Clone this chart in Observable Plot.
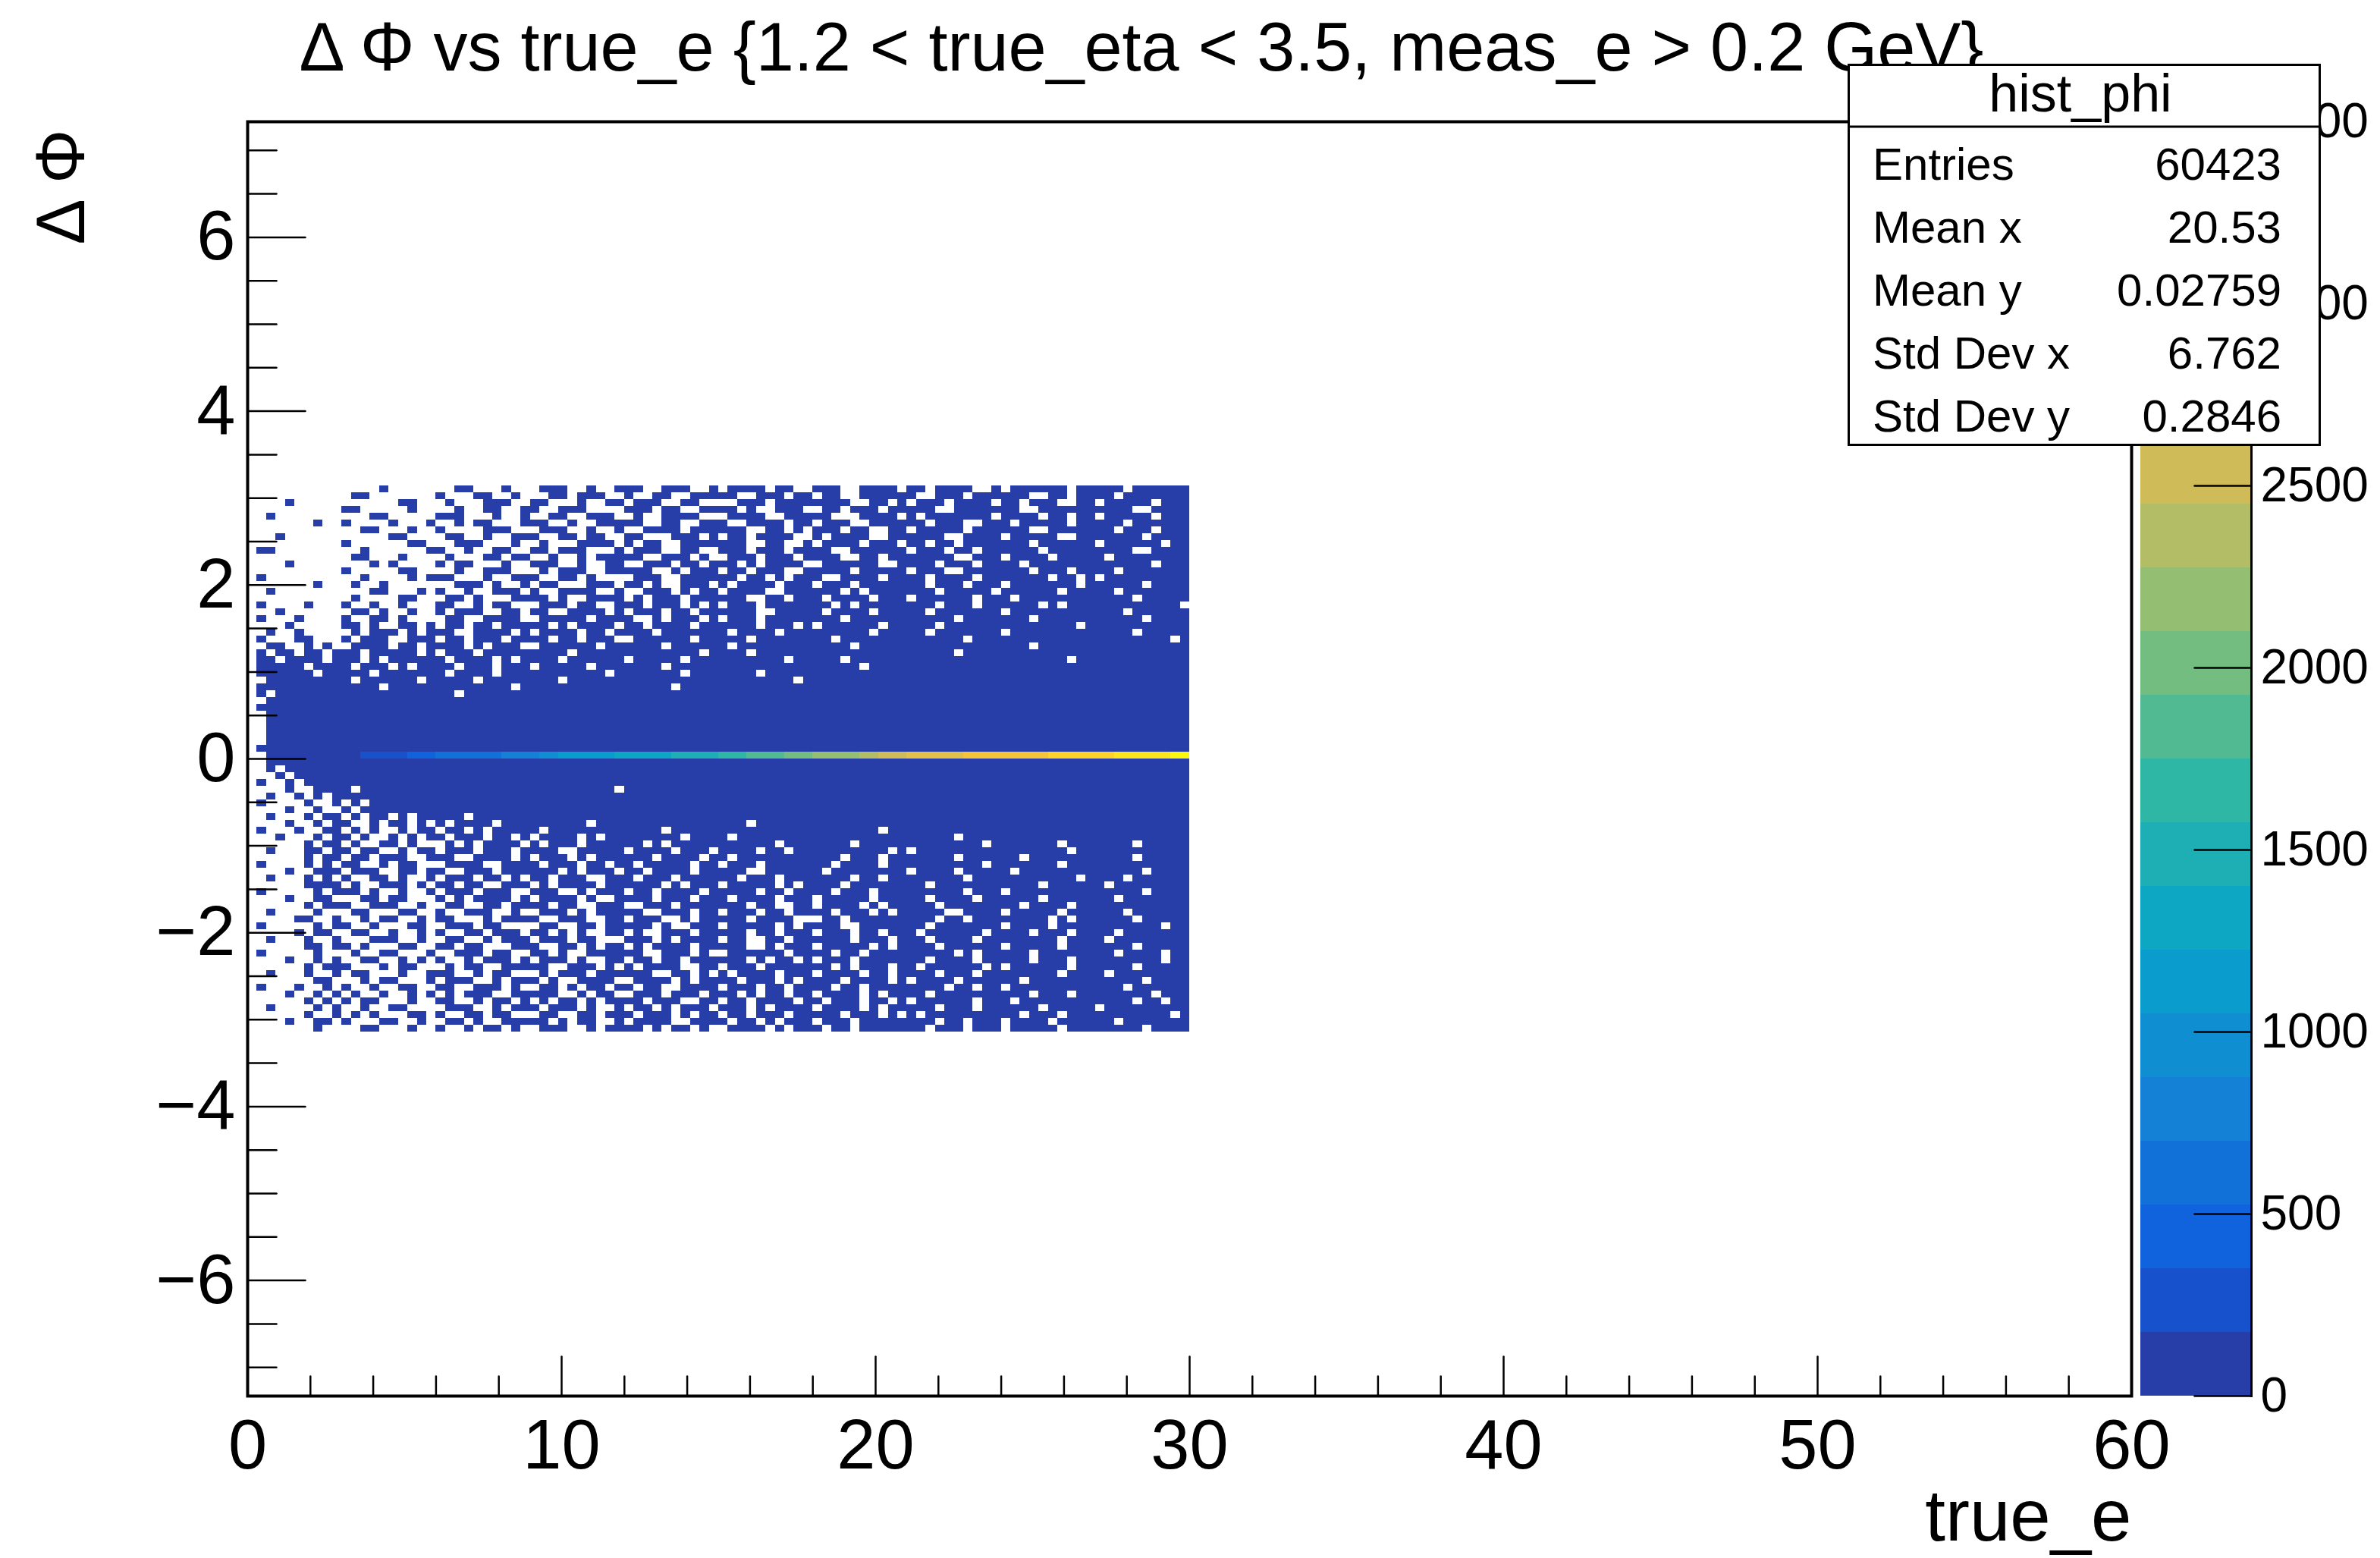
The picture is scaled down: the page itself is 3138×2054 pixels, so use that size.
<!DOCTYPE html>
<html>
<head>
<meta charset="utf-8">
<script src="https://cdn.jsdelivr.net/npm/d3@7"></script>
<script src="https://cdn.jsdelivr.net/npm/@observablehq/plot@0.6"></script>
<style>
html, body { margin: 0; padding: 0; background: #fff; }
#chart { position: relative; width: 3138px; height: 2054px; overflow: hidden; background: #fff;
  font-family: "Liberation Sans", Arial, Helvetica, sans-serif; }
#chart > svg { position: absolute; overflow: visible; }
</style>
</head>
<body>
<div id="chart"></div>
<script>
// ---------------- data ----------------
const chartTitle = "Δ Φ vs true_e {1.2 < true_eta < 3.5, meas_e > 0.2 GeV}";
const xTitle = "true_e";
const yTitle = "Δ Φ";

const xAxisRange = [0, 60];
const yAxisRange = [-7.33, 7.33];
const zAxisRange = [0, 3500];
const zContours = 20;

// histogram binning
const nBinsX = 100, xBinMin = 0, xBinMax = 30;
const nBinsY = 80, yBinMin = -3.1416, yBinMax = 3.1416;

const xMajorTicks = [0, 10, 20, 30, 40, 50, 60];
const xMinorTicks = [2, 4, 6, 8, 12, 14, 16, 18, 22, 24, 26, 28, 32, 34, 36, 38, 42, 44, 46, 48, 52, 54, 56, 58];
const yMajorTicks = [-6, -4, -2, 0, 2, 4, 6];
const yMinorTicks = [-7, -6.5, -5.5, -5, -4.5, -3.5, -3, -2.5, -1.5, -1, -0.5, 0.5, 1, 1.5, 2.5, 3, 3.5, 4.5, 5, 5.5, 6.5, 7];
const zTicks = [0, 500, 1000, 1500, 2000, 2500, 3000, 3500];

const statsName = "hist_phi";
const statsLabels = ["Entries", "Mean x", "Mean y", "Std Dev x", "Std Dev y"];
const statsValues = ["60423", "20.53", "0.02759", "6.762", "0.2846"];

// occupied cells away from the peak all sit in the first colour band
const lowCount = 60;

// peak ridge: Δφ bin just above 0 (bin index 40), starting at true_e bin 12
const peakRowBin = 40;
const peakStartBin = 12;
const peakCounts = [
  200, 230, 260, 290, 320, 350, 380, 420,
  540, 570, 600, 630, 660, 680, 690,
  720, 760, 800, 850, 900, 950,
  1060, 1090, 1120, 1150, 1180, 1210, 1240, 1270, 1300, 1330, 1360, 1390, 1420, 1450, 1480, 1510, 1550,
  1600, 1650, 1700, 1750, 1800, 1850, 1900,
  1950, 2000, 2050, 2100, 2140, 2180, 2220, 2260,
  2300, 2380, 2450, 2520, 2600,
  2650, 2670, 2700, 2720, 2750, 2770, 2800, 2820, 2840, 2860, 2880, 2900, 2920, 2940, 2960, 2980, 3000, 3030, 3060, 3090, 3110, 3140,
  3170, 3200, 3230, 3260, 3290, 3310, 3330, 3333
];

// occupancy: top row = highest Δφ bin; columns = true_e bins 0..99 ('#' = non-empty)
const occupancy = [
".......... ....#..... ..##...#.. .###..#..# ##..###..# .####.##.. ###..####. ##.####..# .######.## ###.######",
".......... .##....... #...##..#. ..##.###.. #..##..### ##..###.## .##..##### #..###.### ###..##.## ##.#######",
"....#..... ......##.. .#...###.. ##...#..## .###..##.. ..###.#### ####..##.# .###.####. ##.###..## .#####.###",
".......... ##.....#.. ..#..##..# #..###.... ###.##..## ##.#..###. .##.###.## ###..##### ##..###### ####..####",
"..#....... ...##..... ###...#..# ..##..###. .#..####.. .####..### ##...####. #.#######. ####.##.## .#####.###",
".......#.. #....#...# ..#.##...# ##..#..### ##..##..## #..####.## .###..#### ##.###..## #.#####.## ###.######",
".......... ..##...#.. #....###.. .###..#..# ..####.### ###..##.#. ###.##..## .#####.### ###..##### ##.###.###",
"...#...... .....##... .##..#..## #..##.##.. ##...###.# .##.####.. #.####..## ####..#### .#####..## #####.####",
".......... #......##. ..###...#. .#...####. #.##..#### ###..##..# .####.###. ##.##.#### ###.###### .######.##",
".##....... ..#......# #..#..##.. ##.###...# .###..##.. ###.###.## ##..###### .###.##.## ####.##### ####..####",
".......... .##...#... .#...##.## ..#..#.### ##..###.#. .###.###.# ###..##.## #####..### .####.#### #.########",
"....#..... ...#.#.... #.##...#.. ###..#..## ..###.##.# ##.#.####. .######..# ###.###.## ##.####### ######.###",
".......... #.....##.. ..#..###.. .#.###..## ###..#.### .##.###..# ####.##### .###..#### ###.###.## ##.#######",
".#........ ..#....#.# ##...#..## #..##.#... .###..#### ##.##.#.## #..####.## ##.####.## #####.##.# .#########",
".......#.. .#..#..... ..###.#..# .##...###. ##.#..###. #.####.### .###.##### ##.###.### .#######.# #####.####",
"..#....... ...##...#. #..#..###. #..####..# ..###.#.## .####..### ###.#.#### ###.#####. ######.### ##.#######",
".......... .#....##.. .##.#...## ##.#..#### .#.###.### ###..##.## #.####.### .######.## #.######## ####.#####",
".#....#... #..#..#... ##..#.##.. .###.##..# ##.###.#.# .###.##### ##.#.##### ###.###.## ####.#.### #########.",
"...#...... .##.#..#.. #.###..##. ##..####.# .###.##.## ####..#### #.####.### ##.####### .######### ###.######",
".#...#.... #..##.#... .##..####. .#####.### #..#.###.# .###.##### ###.###### #####.#### ###.###### #####.####",
"....#..... ##.#..##.# .##.##.### ##.#.####. ##.####.## ####.###.# .######.## ###.###### ########.# ##########",
"..#..#.... .#.###.#.# ##..####.# .####.##.# ###.###### #.####.### ######.### ##.####### .######### ####.#####",
".#...##... #.###..### .##.###.## ##.##.###. .######.## ###.###### ##.####### ######.### ########## ########.#",
"..##..#.#. .####.##.# ###.#.###. .######.## ####.##### #.######## ####.##### ########## ###.###### ##########",
".#.##.##.# ##.#####.# .###.##### ####.##### ########.# ###.###### ########## #####.#### ########## ##########",
".##.####.# ##.#.##### #.####.#.# ###.###### .#####.### #######.## ###.###### ########## #######.## ##########",
".#####.### #.###.#.## ##.###.### .#####.### ####.##### ########## #####.#### ########## ########## ##########",
".######.## ###.###### #.####.### ########.# ######.### ####.##### ########## ########## ########## ##########",
"..######## #.######.# ####.##### ###.###### ########## ########.# ########## ########## ########## ##########",
".######### ####.##### ########.# ########## #####.#### ########## ########## ########## ########## ##########",
".#.####### ########## ##.####### ########## ########## ########## ########## ########## ########## ##########",
"..######## ########## ########## ########## ########## ########## ########## ########## ########## ##########",
".######### ########## ########## ########## ########## ########## ########## ########## ########## ##########",
"..######## ########## ########## ########## ########## ########## ########## ########## ########## ##########",
"..######## ########## ########## ########## ########## ########## ########## ########## ########## ##########",
"..######## ########## ########## ########## ########## ########## ########## ########## ########## ##########",
"..######## ########## ########## ########## ########## ########## ########## ########## ########## ##########",
"..######## ########## ########## ########## ########## ########## ########## ########## ########## ##########",
".######### ########## ########## ########## ########## ########## ########## ########## ########## ##########",
"..######## ########## ########## ########## ########## ########## ########## ########## ########## ##########",
"..######## ########## ########## ########## ########## ########## ########## ########## ########## ##########",
"..#.###### ########## ########## ########## ########## ########## ########## ########## ########## ##########",
"...#.##### ########## ########## ########## ########## ########## ########## ########## ########## ##########",
".#..#.#### ########## ########## ########## ########## ########## ########## ########## ########## ##########",
"....#..### #.######## ########## #########. ########## ########## ########## ########## ########## ##########",
"..#..#.#.# ########## ########## ########## ########## ########## ########## ########## ########## ##########",
".#....#..# .#.####### ########## ########## ########## ########## ########## ########## ########## ##########",
"....#..#.. #.######## ########## ########## ########## ########## ########## ########## ########## ##########",
"..#...#.## .#.##.#.## ###.###### ########## ########## ########## ########## ########## ########## ##########",
"....#..#.# #..#.##.#. #.####.### ######.### ########## ###.###### ########## ########## ########## ##########",
".#...#..## .#.#..#.## .##.#.#### #.######## ####.##### ########## #######.## ########## ########## ##########",
"...#...#.# #.#..#.#.# #.###.##.# .####.#.## ######.### #.######## ########## #####.#### ########## ##########",
"......#.## .#..##.#.. .#.#.####. #.###.#### ##.#.##### ######.### ####.##### ########.# ######.### ####.#####",
"..#...##.# #.##..#.## .###.###.# ###..##### .####.###. ####.##.## ########.# .######### #######.## ##########",
"......#.## .##.###..# ##..####.# .###.#.### ###.####.# #.######## ###.###.## #####.#### ##.####### ####.#####",
".#....#.#. ##..#.##.. .####..### #.###.##.# #.#####.## .###.##### ##.####.## ########.# ######.### ##########",
"....#..### .###..##.# #..###.### ###.#.###. ##.####.## ###..##### #.######## .####.#### #.######## #####.####",
"..#...#.#. #..##.#..# .###.##.#. ##.###..## #.###.#### ##.###.### ####.##.## ######.### ########.# ###.######",
"......#### .#..###.#. ##.##..### .#.####.## ####.#.### .#####.#.# ###.###### ##.####### ####.##### #.########",
".#.....#.# ##.#..#..# .###.###.. ###..#.### .##.####.# ####.##.## ##.###.### ######.### .######### #####.####",
"....#..##. ..##.##... #.#.####.# .####.#..# ###.###.## #.####.### .#####.### ##.####.## ####.##### ##.#######",
"......#.## #..###..#. .##..##.## ##.##..### ..###.#### ###.##..## .####.#.## ###.###### ##.####.## ##########",
"..#....#.. .##...##.. #..###..#. .###.#.### ##..###.## .###.##.## ##.###.#.# ####..#### .#####.### ###.######",
".....##..# ..#.##..#. ##...#.### #..###..## .###..#.## ###.####.. .##.###### ###.##.### #####.#.## ####.#####",
".#.....#.# #..#...##. .###.##... .##..##.## ###.#..### .#####.#.# ###..##### ##.####### .####.#### #######.##",
".....#.##. .##..#..#. #..##.###. ##.#.#..## .#..###.## ###.##.### .###.##.## #.######.# ###.###.## ##.#######",
"..#...#..# ...###..#. .##..#.### .###.##... ###.#.#### .##..##.## ####.###.# ##.####.## ######.### #.########",
"......##.# #.#...##.. ##.##...## #..##.#.## .#.####.## ###..#.### .#####.#.# ###.###### .#####.### ####.#####",
".#.....#.. .#..##...# ..###.##.. ##.#..#### ##..###.#. .######.## ##.##.#### #####.#.## ###.###### ##.####.##",
"....#..#.# ..##..#.#. #..#.###.# .###.#..## .##.##.### ###.#.##.# .###.##### ##.####.## ###.###.## #######.##",
"......#.## #...#.##.. .#.##..### ##..###.#. #.####..## .###.##### ##.#.###.# #.######.# .######.## ####.#####",
"..#...#..# .##...#..# ##..#.##.. .#.###.### ###..##.#. #.####.### .####.##.# ###.###.## ######.### #.########",
".......##. ..#.##...# .###..#.## #.#..####. .####.#.## ##.###.#.# ###.####.# .####.#### ##.####### #####.####",
".#...#..#. #..#..##.. ##..###.#. .##.#.##.# #.##..#### .###.##.## ##.##.#### ####.##.## .######### ###.######",
"....#..#.# .#..#..#.# .#.###..## ###..#.##. .###.###.# ##.#.##.## .####.#.## ##.####### ###.###.## ######.###",
"......#.#. #.##...#.. ##..#.##.# .#.##.#.## ##.###..## .##.####.# #.###.##.# .######.## #.######## ####.##.##",
"..#....#.# ..#..##... .###..#.## #.###.#..# .##.#.###. ###.#.#### .####.#.## ###.###.## ####.##### .#########",
"......#..# .#.#...##. #..##.##.. .##..##.## #.###.#.## .##.###.## ###.###.#. #.######## ##.###.### ########.#",
"....#..##. #...##..#. .##.#..### ##.#.##..# .####..### #.##.#.### .###.##### ###.##.### .####.#### ##.#######",
".......#.. ..##...#.. #..#.##.#. .###..#.## ##.#.##.#. .####.#.## #.##.##### ##.###.### .#####.### #####.####"
];

// ---------------- colour palette (ROOT kBird) ----------------
const birdStops = [0.0000, 0.1250, 0.2500, 0.3750, 0.5000, 0.6250, 0.7500, 0.8750, 1.0000];
const birdR = [0.2082, 0.0592, 0.0780, 0.0232, 0.1802, 0.5301, 0.8186, 0.9956, 0.9764];
const birdG = [0.1664, 0.3599, 0.5041, 0.6419, 0.7178, 0.7492, 0.7328, 0.7862, 0.9832];
const birdB = [0.5293, 0.8684, 0.8385, 0.7914, 0.6425, 0.4662, 0.3499, 0.1968, 0.0539];
function bird(t) {
  let i = 1;
  while (i < birdStops.length - 1 && t > birdStops[i]) i++;
  const f = (t - birdStops[i - 1]) / (birdStops[i] - birdStops[i - 1]);
  const c = arr => Math.round(255 * (arr[i - 1] + (arr[i] - arr[i - 1]) * f));
  return d3.rgb(c(birdR), c(birdG), c(birdB)).formatHex();
}
const zStep = (zAxisRange[1] - zAxisRange[0]) / zContours;
const bandColors = d3.range(zContours).map(k => bird(Math.floor((k + 0.99) * 255 / zContours) / 255));
const thresholds = d3.range(1, zContours).map(k => zAxisRange[0] + k * zStep);
const colorScale = {type: "threshold", domain: thresholds, range: bandColors};

// ---------------- build cells ----------------
const bwx = (xBinMax - xBinMin) / nBinsX;
const bwy = (yBinMax - yBinMin) / nBinsY;
const cells = [];
occupancy.forEach((rowStr, r) => {
  const row = rowStr.replace(/ /g, "").padEnd(nBinsX, ".").slice(0, nBinsX);
  const bin = nBinsY - 1 - r;
  for (let c = 0; c < nBinsX; c++) {
    let count = row[c] === "#" ? lowCount : 0;
    if (bin === peakRowBin && c >= peakStartBin && c - peakStartBin < peakCounts.length) count = peakCounts[c - peakStartBin];
    if (count > 0) cells.push({
      x1: xBinMin + c * bwx, x2: xBinMin + (c + 1) * bwx,
      y1: yBinMin + bin * bwy, y2: yBinMin + (bin + 1) * bwy, count
    });
  }
});

const fmt = d => (d < 0 ? "\u2212" + Math.abs(d) : String(d));
const tickShape = { draw(ctx, l) { ctx.moveTo(0, 0); ctx.lineTo(0, -l); } };
const FONT = "'Liberation Sans', Arial, Helvetica, sans-serif";

// ---------------- main plot ----------------
const main = Plot.plot({
  width: 2830, height: 2054,
  marginLeft: 326, marginRight: 20, marginTop: 160, marginBottom: 214,
  x: {domain: xAxisRange, axis: null},
  y: {domain: yAxisRange, axis: null},
  color: colorScale,
  style: {fontFamily: FONT, color: "black", background: "transparent", overflow: "visible"},
  marks: [
    Plot.rect(cells, {x1: "x1", x2: "x2", y1: "y1", y2: "y2", fill: "count", shapeRendering: "crispEdges"}),
    Plot.frame({stroke: "black", strokeWidth: 4}),
    Plot.vectorX(xMinorTicks, {frameAnchor: "bottom", length: 26, rotate: 0, anchor: "start", shape: tickShape, stroke: "black", strokeWidth: 2.5}),
    Plot.vectorX(xMajorTicks, {frameAnchor: "bottom", length: 52, rotate: 0, anchor: "start", shape: tickShape, stroke: "black", strokeWidth: 2.5}),
    Plot.vectorY(yMinorTicks, {frameAnchor: "left", length: 38, rotate: 90, anchor: "start", shape: tickShape, stroke: "black", strokeWidth: 2.5}),
    Plot.vectorY(yMajorTicks, {frameAnchor: "left", length: 76, rotate: 90, anchor: "start", shape: tickShape, stroke: "black", strokeWidth: 2.5}),
    Plot.axisX({ticks: xMajorTicks, tickSize: 0, tickPadding: 30, fontSize: 92, label: null, tickFormat: fmt}),
    Plot.axisY({ticks: yMajorTicks, tickSize: 0, tickPadding: 16, fontSize: 92, label: null, tickFormat: fmt}),
    Plot.text([xTitle], {frameAnchor: "bottom-right", textAnchor: "end", lineAnchor: "bottom", dy: 190, fontSize: 96, fill: "black"}),
    Plot.text([yTitle], {frameAnchor: "top-left", rotate: -90, textAnchor: "end", lineAnchor: "bottom", dx: -216, dy: 10, fontSize: 90, fill: "black"}),
    Plot.text([chartTitle], {frameAnchor: "top-left", textAnchor: "start", lineAnchor: "bottom", dx: 68, dy: -68, fontSize: 90, fill: "black"})
  ]
});
main.style.left = "0px"; main.style.top = "0px";

// ---------------- colour bar ----------------
const bands = d3.range(zContours).map(k => ({lo: zAxisRange[0] + k * zStep, hi: zAxisRange[0] + (k + 1) * zStep}));
const bar = Plot.plot({
  width: 420, height: 2054,
  marginLeft: 0, marginRight: 274, marginTop: 160, marginBottom: 214,
  y: {domain: zAxisRange, axis: null},
  color: colorScale,
  style: {fontFamily: FONT, color: "black", background: "transparent", overflow: "visible"},
  marks: [
    Plot.rect(bands, {y1: "lo", y2: "hi", fill: "lo", shapeRendering: "crispEdges"}),
    Plot.frame({anchor: "right", stroke: "black", strokeWidth: 3}),
    Plot.vectorY(zTicks, {frameAnchor: "right", length: 75, rotate: -90, anchor: "start", shape: tickShape, stroke: "black", strokeWidth: 2.5}),
    Plot.axisY({anchor: "right", ticks: zTicks, tickSize: 0, tickPadding: 12, fontSize: 64, label: null, tickFormat: d => String(d)})
  ]
});
bar.style.left = "2822px"; bar.style.top = "0px";

// ---------------- stats box ----------------
const sb = {left: 2436, top: 84, width: 624, height: 504, header: 83};
const stats = d3.create("svg")
  .attr("width", sb.width).attr("height", sb.height)
  .style("left", sb.left + "px").style("top", sb.top + "px")
  .style("font-family", FONT);
stats.append("rect").attr("x", 1.5).attr("y", 1.5).attr("width", sb.width - 3).attr("height", sb.height - 3)
  .attr("fill", "white").attr("stroke", "black").attr("stroke-width", 3);
stats.append("line").attr("x1", 0).attr("x2", sb.width).attr("y1", sb.header).attr("y2", sb.header)
  .attr("stroke", "black").attr("stroke-width", 3);
stats.append("text").attr("x", 307).attr("y", 63).attr("text-anchor", "middle")
  .attr("font-size", 70).text(statsName);
statsLabels.forEach((lab, i) => {
  const y = 153 + i * 83;
  stats.append("text").attr("x", 33).attr("y", y).attr("font-size", 60).text(lab);
  stats.append("text").attr("x", 572).attr("y", y).attr("text-anchor", "end").attr("font-size", 60).text(statsValues[i]);
});

const chart = document.getElementById("chart");
chart.appendChild(main);
chart.appendChild(bar);
chart.appendChild(stats.node());
</script>
</body>
</html>
